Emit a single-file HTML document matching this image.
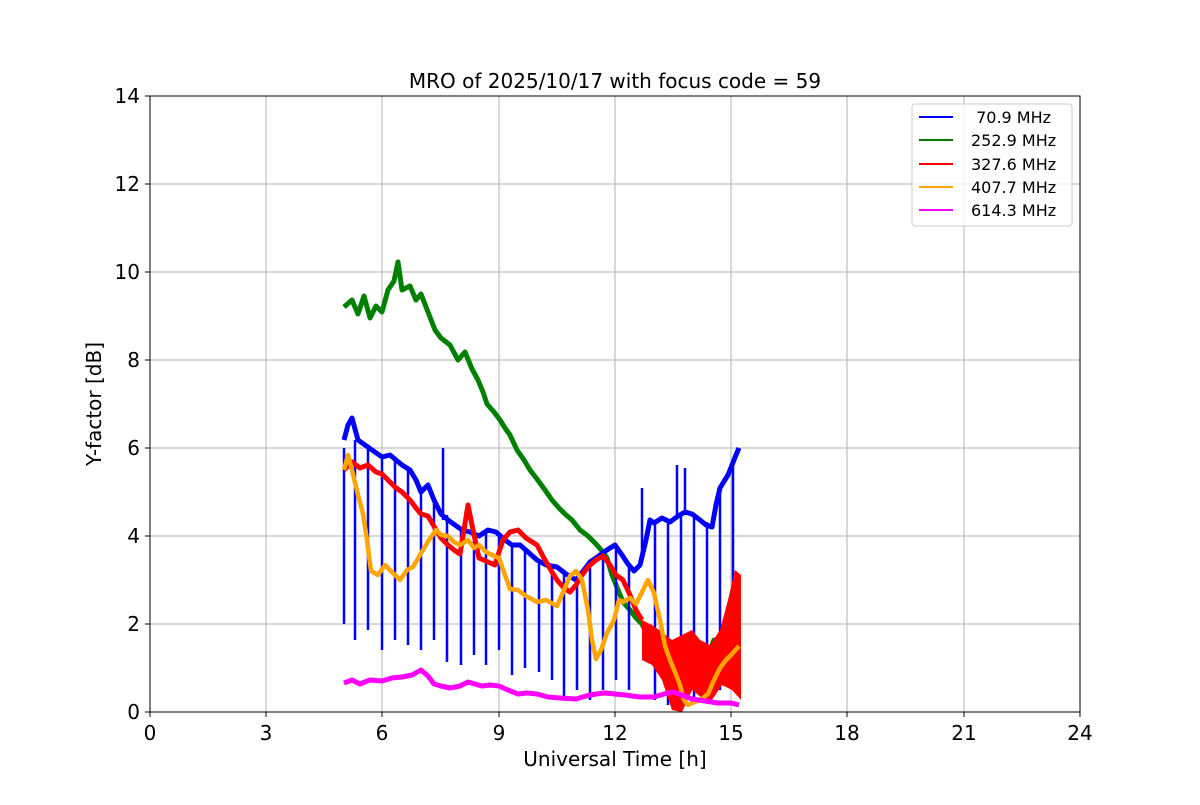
<!DOCTYPE html>
<html><head><meta charset="utf-8"><style>
body{margin:0;background:#fff}
svg text{font-family:"DejaVu Sans","Liberation Sans",sans-serif}
</style></head><body>
<svg width="1200" height="800" viewBox="0 0 1200 800" xmlns="http://www.w3.org/2000/svg">
<rect width="1200" height="800" fill="#fff"/>
<g stroke="#b0b0b0" stroke-width="1">
<line x1="266" y1="96" x2="266" y2="712"/><line x1="382" y1="96" x2="382" y2="712"/>
<line x1="499" y1="96" x2="499" y2="712"/><line x1="615" y1="96" x2="615" y2="712"/>
<line x1="731" y1="96" x2="731" y2="712"/><line x1="847" y1="96" x2="847" y2="712"/>
<line x1="964" y1="96" x2="964" y2="712"/>
<line x1="150" y1="624" x2="1080" y2="624"/><line x1="150" y1="536" x2="1080" y2="536"/>
<line x1="150" y1="448" x2="1080" y2="448"/><line x1="150" y1="360" x2="1080" y2="360"/>
<line x1="150" y1="272" x2="1080" y2="272"/><line x1="150" y1="184" x2="1080" y2="184"/>
</g>
<polyline fill="none" stroke="#008000" stroke-width="5" stroke-linejoin="round" points="344,307 352,300 358,314 364,296 370,318 376,306 382,312 388,290 394,281 398,262 402,290 410,286 416,300 421,294 428,312 435,330 441,338 450,345 458,360 465,352 472,369 478,380 483,392 487,404 494,412 500,420 505,428 510,435 517,450 524,460 530,470 537,479 545,490 552,500 559,508 565,514 572,520 580,530 588,536 596,544 603,552 607,558 612,575 618,590 623,602 630,610 636,618 642,624 650,640 658,650 666,662 673,668 682,675 692,677 700,664 708,655 714,640 720,646 726,625 731,615 739,610"/>
<polyline fill="none" stroke="#0000ff" stroke-width="5" stroke-linejoin="round" points="344,440 348,425 352,418 358,440 365,445 372,450 382,457 390,455 396,460 402,465 410,470 416,480 421,492 428,485 434,500 441,514 448,520 455,525 462,530 470,532 479,536 488,530 496,532 505,540 512,545 520,545 528,552 537,560 546,565 557,567 566,574 576,580 584,570 590,562 596,558 604,552 610,548 615,545 622,555 628,564 634,571 640,565 646,540 650,520 654,523 662,518 670,522 678,516 685,512 692,514 700,520 706,525 712,527 716,505 720,488 723,483 728,475 732,465 736,455 739,448"/>
<g stroke="#0000ff" stroke-width="2.5">
<line x1="344" y1="448" x2="344" y2="624"/><line x1="355" y1="440" x2="355" y2="640"/>
<line x1="368" y1="445" x2="368" y2="630"/><line x1="382" y1="455" x2="382" y2="650"/>
<line x1="395" y1="460" x2="395" y2="640"/><line x1="408" y1="468" x2="408" y2="645"/>
<line x1="421" y1="490" x2="421" y2="650"/><line x1="434" y1="500" x2="434" y2="640"/>
<line x1="443" y1="448" x2="443" y2="520"/>
<line x1="447" y1="515" x2="447" y2="662"/><line x1="461" y1="528" x2="461" y2="665"/>
<line x1="474" y1="534" x2="474" y2="655"/><line x1="486" y1="532" x2="486" y2="665"/>
<line x1="499" y1="535" x2="499" y2="650"/><line x1="512" y1="545" x2="512" y2="675"/>
<line x1="525" y1="548" x2="525" y2="668"/><line x1="539" y1="560" x2="539" y2="672"/>
<line x1="552" y1="565" x2="552" y2="680"/><line x1="564" y1="570" x2="564" y2="700"/>
<line x1="577" y1="580" x2="577" y2="690"/><line x1="590" y1="562" x2="590" y2="700"/>
<line x1="603" y1="552" x2="603" y2="690"/><line x1="616" y1="548" x2="616" y2="680"/>
<line x1="629" y1="565" x2="629" y2="690"/><line x1="642" y1="560" x2="642" y2="488"/>
<line x1="655" y1="523" x2="655" y2="700"/><line x1="668" y1="520" x2="668" y2="705"/>
<line x1="677" y1="516" x2="677" y2="465"/><line x1="681" y1="516" x2="681" y2="700"/>
<line x1="685" y1="512" x2="685" y2="468"/><line x1="694" y1="514" x2="694" y2="700"/>
<line x1="707" y1="522" x2="707" y2="695"/><line x1="720" y1="490" x2="720" y2="690"/>
<line x1="733" y1="462" x2="733" y2="680"/>
</g>
<polyline fill="none" stroke="#ff0000" stroke-width="5" stroke-linejoin="round" points="344,470 352,462 360,468 368,465 376,472 382,474 390,482 396,488 402,492 410,500 416,508 421,514 428,516 435,528 441,538 448,545 454,550 460,554 464,530 468,505 472,525 479,558 488,562 495,565 499,552 503,540 510,532 518,530 526,538 537,545 545,560 552,572 557,580 564,588 570,592 576,585 582,575 588,567 596,560 603,556 610,565 616,575 623,580 630,595 636,610 642,620"/>
<polygon fill="#ff0000" points="642,620 652,625 662,632 672,640 682,635 692,630 700,640 710,645 720,630 728,600 735,570 741,575 741,700 732,690 722,685 712,700 702,698 692,690 682,712 672,710 662,680 652,665 642,660"/>
<polyline fill="none" stroke="#ffa500" stroke-width="4.5" stroke-linejoin="round" points="344,470 348,455 352,470 358,495 363,514 367,540 371,571 378,575 385,565 392,572 400,580 407,570 413,567 420,555 429,540 436,530 441,535 448,536 454,542 460,545 468,540 474,548 479,545 486,552 492,555 499,558 505,575 510,589 518,590 526,596 537,602 546,600 557,606 564,590 570,576 576,571 582,580 588,610 592,640 596,659 601,650 607,633 614,620 619,600 623,602 630,598 636,604 642,592 648,580 654,593 660,620 665,646 670,660 675,672 680,685 684,700 688,705 692,703 700,700 708,694 714,680 720,668 726,660 731,655 739,646"/>
<polyline fill="none" stroke="#ff00ff" stroke-width="5" stroke-linejoin="round" points="344,683 352,680 360,684 370,680 382,681 392,678 402,677 412,675 421,670 428,676 434,684 441,686 450,688 460,686 468,682 475,684 482,686 490,685 499,686 508,690 518,694 527,693 537,694 548,697 560,698 576,699 586,696 596,694 605,693 615,694 625,695 640,697 654,697 664,694 673,692 682,695 692,699 705,701 718,703 731,703 739,705"/>
<rect x="150" y="96" width="930" height="616" fill="none" stroke="#000" stroke-width="1"/>
<g stroke="#000" stroke-width="1">
<line x1="150" y1="712" x2="150" y2="717"/><line x1="266" y1="712" x2="266" y2="717"/><line x1="382" y1="712" x2="382" y2="717"/><line x1="499" y1="712" x2="499" y2="717"/><line x1="615" y1="712" x2="615" y2="717"/><line x1="731" y1="712" x2="731" y2="717"/><line x1="847" y1="712" x2="847" y2="717"/><line x1="964" y1="712" x2="964" y2="717"/><line x1="1080" y1="712" x2="1080" y2="717"/>
<line x1="145" y1="712" x2="150" y2="712"/><line x1="145" y1="624" x2="150" y2="624"/><line x1="145" y1="536" x2="150" y2="536"/><line x1="145" y1="448" x2="150" y2="448"/><line x1="145" y1="360" x2="150" y2="360"/><line x1="145" y1="272" x2="150" y2="272"/><line x1="145" y1="184" x2="150" y2="184"/><line x1="145" y1="96" x2="150" y2="96"/>
</g>
<g font-size="20" fill="#000" text-anchor="middle">
<text x="150" y="740">0</text><text x="266" y="740">3</text><text x="382" y="740">6</text><text x="499" y="740">9</text><text x="615" y="740">12</text><text x="731" y="740">15</text><text x="847" y="740">18</text><text x="964" y="740">21</text><text x="1080" y="740">24</text>
</g>
<g font-size="20" fill="#000" text-anchor="end">
<text x="140" y="719">0</text><text x="140" y="631">2</text><text x="140" y="543">4</text><text x="140" y="455">6</text><text x="140" y="367">8</text><text x="140" y="279">10</text><text x="140" y="191">12</text><text x="140" y="103">14</text>
</g>
<text x="615" y="766" font-size="20" text-anchor="middle">Universal Time [h]</text>
<text transform="translate(101,404) rotate(-90)" font-size="20" text-anchor="middle">Y-factor [dB]</text>
<text x="615" y="88" font-size="20" text-anchor="middle">MRO of 2025/10/17 with focus code = 59</text>
<rect x="912" y="104" width="160" height="122" rx="3" fill="#fff" fill-opacity="0.8" stroke="#ccc"/>
<g stroke-width="2">
<line x1="919" y1="117" x2="953" y2="117" stroke="#0000ff"/>
<line x1="919" y1="140" x2="953" y2="140" stroke="#008000"/>
<line x1="919" y1="164" x2="953" y2="164" stroke="#ff0000"/>
<line x1="919" y1="187" x2="953" y2="187" stroke="#ffa500"/>
<line x1="919" y1="210" x2="953" y2="210" stroke="#ff00ff"/>
</g>
<g font-size="16" fill="#000">
<text x="971" y="123">&#160;70.9 MHz</text>
<text x="971" y="146">252.9 MHz</text>
<text x="971" y="170">327.6 MHz</text>
<text x="971" y="193">407.7 MHz</text>
<text x="971" y="216">614.3 MHz</text>
</g>
</svg>
</body></html>
